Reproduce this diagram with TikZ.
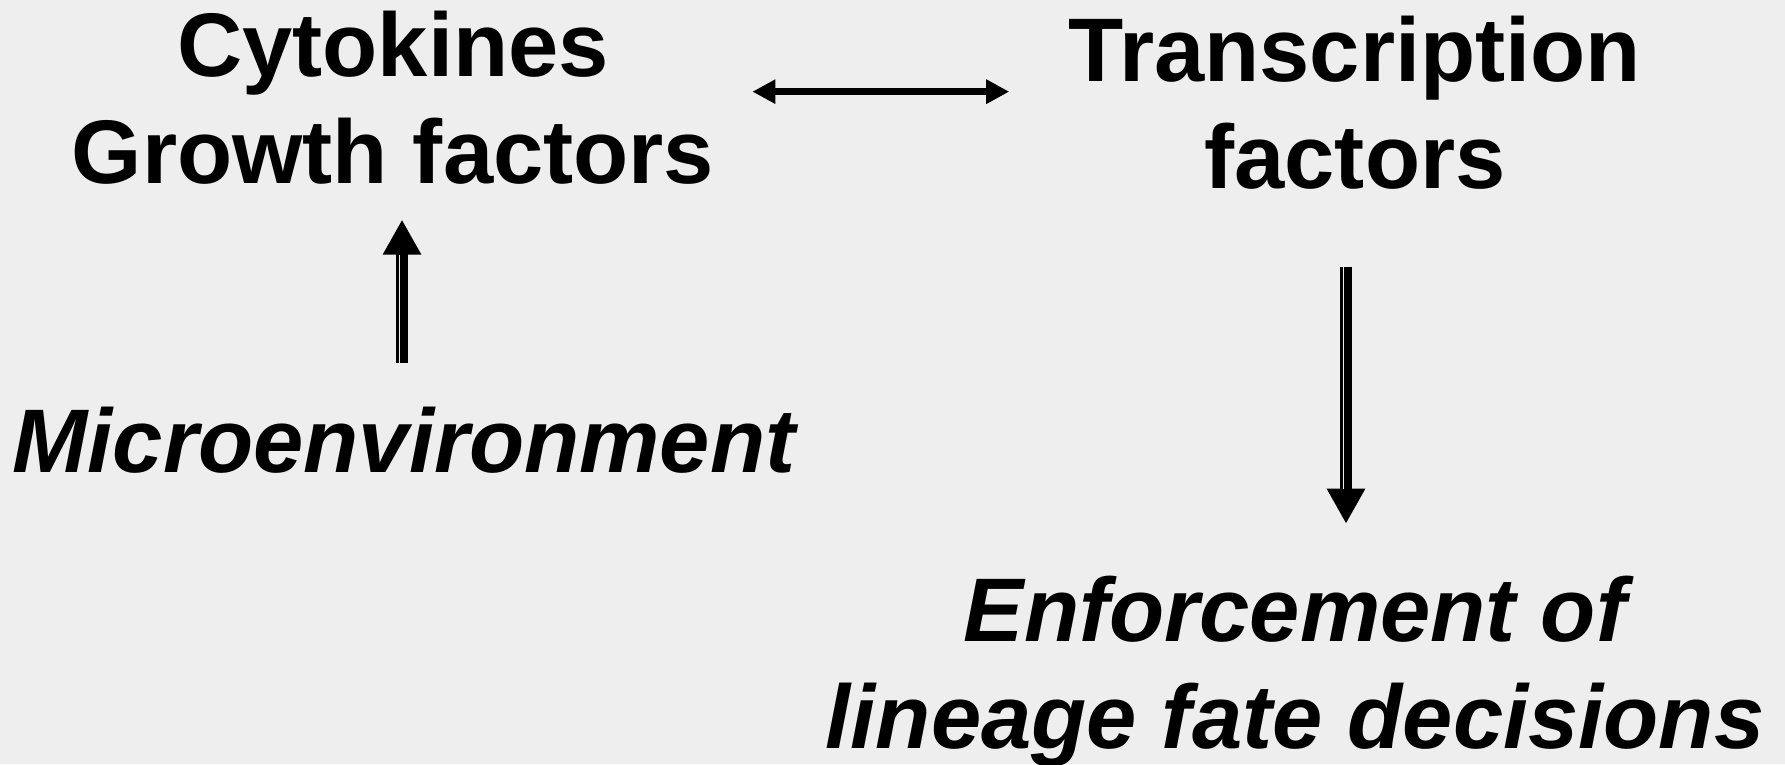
\documentclass[tikz,border=0pt]{standalone}
\usepackage{fontspec}
\setmainfont{Liberation Sans}
\usetikzlibrary{positioning,calc,arrows.meta}
\definecolor{slideBg}{HTML}{EEEEEE}

\tikzset{
  boldtext/.style={font=\fontsize{25.7}{30.2}\selectfont\bfseries,
    align=center, inner sep=0pt, anchor=base},
  bolditalic/.style={boldtext, font=\fontsize{25.7}{30.2}\selectfont\bfseries\itshape},
  linkarrow/.style={line width=0.07cm, {Triangle[length=0.23cm,width=0.23cm]}-{Triangle[length=0.23cm,width=0.23cm]}},
  fatarrow/.style={line width=0.12cm, -{Triangle[length=0.35cm,width=0.36cm]}},
  gapline/.style={draw=slideBg, line width=0.012cm}
}

\begin{document}
\begin{tikzpicture}

% --- page and background ---
\fill[slideBg] (0,0) rectangle (17.85,-7.64);
\useasboundingbox (0,0) rectangle (17.85,-7.64);

% --- the four labels (base = last line) ---
\node[boldtext] (cyto) at (3.93,-1.83) {Cytokines\\Growth factors};
\node[boldtext] (tf) at (13.55,-1.88) {Transcription\\factors};
\node[bolditalic] (micro) at (4.04,-4.72) {Microenvironment};
\node[bolditalic] (enf) at (12.95,-7.48) {Enforcement of\\lineage fate decisions};

% --- connectors ---
\draw[linkarrow, shorten <=0.375cm, shorten >=0.59cm]
  ([yshift=0.06cm]cyto.east) -- ([yshift=0.06cm]cyto.east -| tf.west);

% up arrow, split shaft
\draw[fatarrow, shorten <=0.43cm, shorten >=0.35cm]
  ([xshift=-0.02cm]micro.north) -- ([xshift=-0.02cm]micro.north |- cyto.south);
\draw[gapline, shorten <=0.43cm, shorten >=0.70cm]
  ([xshift=-0.045cm]micro.north) -- ([xshift=-0.045cm]micro.north |- cyto.south);

% down arrow, split shaft
\draw[fatarrow, shorten <=0.77cm, shorten >=0.52cm]
  ([xshift=-0.09cm]tf.south) -- ([xshift=-0.09cm]tf.south |- enf.north);
\draw[gapline, shorten <=0.77cm, shorten >=0.87cm]
  ([xshift=-0.115cm]tf.south) -- ([xshift=-0.115cm]tf.south |- enf.north);

\end{tikzpicture}
\end{document}
